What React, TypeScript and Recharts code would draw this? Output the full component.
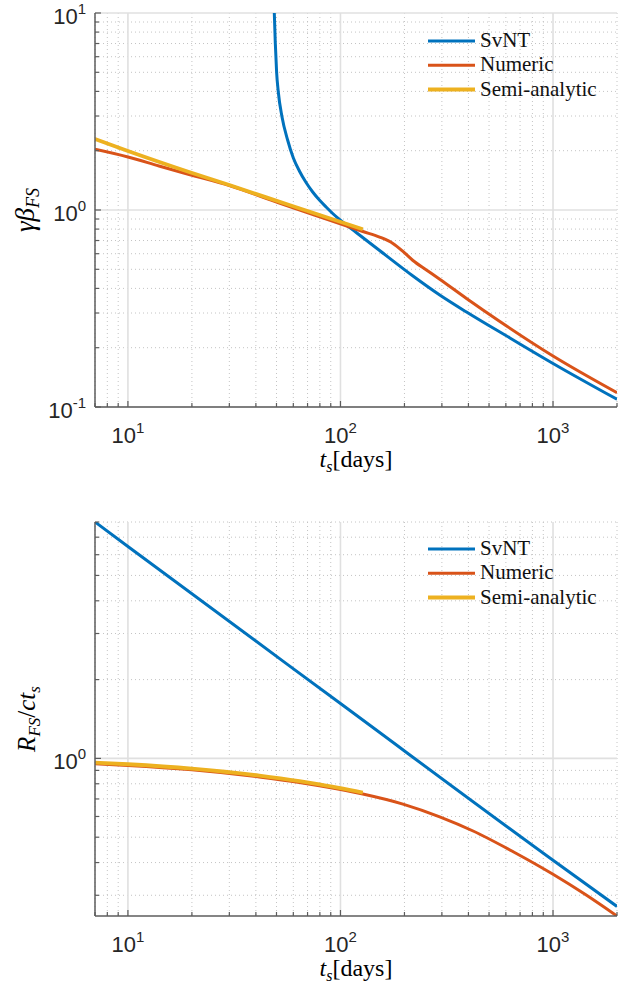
import React from 'react';
import { LineChart, Line, XAxis, YAxis, CartesianGrid, Legend } from 'recharts';

// ---------- data ----------
const seriesNames = ['SvNT', 'Numeric', 'Semi-analytic'];
const seriesColors = ['#0072BD', '#D95319', '#EDB120'];

const xMajor = [10, 100, 1000];
const xMinor = [7, 8, 9, 20, 30, 40, 50, 60, 70, 80, 90, 200, 300, 400, 500, 600, 700, 800, 900, 2000];
const topYMajor = [0.1, 1, 10];
const topYMinor = [0.2, 0.3, 0.4, 0.5, 0.6, 0.7, 0.8, 0.9, 2, 3, 4, 5, 6, 7, 8, 9];
const botYMajor = [1];
const botYMinor = [0.3, 0.4, 0.5, 0.6, 0.7, 0.8, 0.9, 2, 3, 4, 5, 6, 7, 8];

// top panel: gamma*beta_FS
const svntTopT = [48.83, 49.36, 50.06, 50.99, 53.09, 56.41, 60.02, 64.08, 68.89, 74.02, 79.59, 85.58, 91.95, 98.92, 118.6, 152.8, 219.3, 293.1, 391.7, 626.9, 1000, 2000];
const svntTopV = [10, 7.04, 5.018, 3.972, 2.966, 2.266, 1.836, 1.578, 1.379, 1.234, 1.124, 1.036, 0.96, 0.895, 0.769, 0.623, 0.4624, 0.3703, 0.3035, 0.224, 0.1663, 0.1094];
const numTopT = [7, 10, 14, 19.4, 30, 51.55, 99, 127.4, 152.8, 176.5, 196.8, 219.3, 253.7, 293.1, 391.7, 562.3, 1000, 2000];
const numTopV = [2.033, 1.858, 1.673, 1.514, 1.331, 1.085, 0.854, 0.778, 0.729, 0.676, 0.616, 0.554, 0.496, 0.445, 0.3554, 0.2716, 0.1815, 0.1182];
const semiTopT = [7, 10, 19.4, 30, 57.45, 127.4];
const semiTopV = [2.293, 1.993, 1.559, 1.339, 1.06, 0.798];

// bottom panel: R_FS / c t_s
const svntBotT = [7, 10, 100, 1000, 2000];
const svntBotV = [8.0, 6.45, 1.62, 0.408, 0.272];
const numBotT = [7, 10, 20, 41.5, 64.1, 79.6, 127.4, 196.8, 293.1, 420.7, 649.6, 1000, 1415, 2000];
const numBotV = [0.954, 0.94, 0.904, 0.849, 0.809, 0.786, 0.731, 0.669, 0.598, 0.528, 0.44, 0.3608, 0.3025, 0.25];
const semiBotT = [7, 10, 20, 41.5, 64.1, 79.6, 127.4];
const semiBotV = [0.964, 0.95, 0.914, 0.859, 0.818, 0.795, 0.74];

const zip = (t: number[], v: number[]) => t.map((x, i) => ({ t: x, v: v[i] }));

const AXIS = '#5c5c5c';
const TICKFONT = 'Liberation Sans, Arial, Helvetica, sans-serif';
const SERIF = 'Liberation Serif, Times New Roman, DejaVu Serif, serif';

const isMajor = (v: number) => Math.abs(Math.log10(v) - Math.round(Math.log10(v))) < 1e-6;

function XTick(props: any) {
  const { x, y, payload } = props;
  const v = payload.value;
  const major = isMajor(v);
  const len = major ? 6 : 4;
  return (
    <g>
      <line x1={x} x2={x} y1={y} y2={y - len} stroke={AXIS} strokeWidth={1.2} />
      {major && (
        <text x={x} y={y + 36} textAnchor="middle" style={{ fontFamily: TICKFONT, fontSize: 22 }} fill="#262626">
          <tspan>10</tspan>
          <tspan dy={-10} style={{ fontSize: 15 }}>{Math.round(Math.log10(v))}</tspan>
        </text>
      )}
    </g>
  );
}

function YTick(props: any) {
  const { x, y, payload } = props;
  const v = payload.value;
  const major = isMajor(v);
  const len = major ? 6 : 4;
  return (
    <g>
      <line x1={x} x2={x + len} y1={y} y2={y} stroke={AXIS} strokeWidth={1.2} />
      {major && (
        <text x={x - 9} y={y + 11} textAnchor="end" style={{ fontFamily: TICKFONT, fontSize: 22 }} fill="#262626">
          <tspan>10</tspan>
          <tspan dy={-10} style={{ fontSize: 15 }}>{Math.round(Math.log10(v))}</tspan>
        </text>
      )}
    </g>
  );
}

function XLabel(props: any) {
  const vb = props.viewBox || {};
  const cx = vb.x + vb.width / 2;
  const y = vb.y + 60;
  return (
    <text x={cx} y={y} textAnchor="middle" style={{ fontFamily: SERIF, fontSize: 24 }} fill="#000">
      <tspan style={{ fontStyle: 'italic' }}>t</tspan>
      <tspan style={{ fontStyle: 'italic', fontSize: 16 }} dy={5}>s</tspan>
      <tspan dy={-5}>[days]</tspan>
    </text>
  );
}

function YLabelTop(props: any) {
  const vb = props.viewBox || {};
  const cy = vb.y + vb.height / 2;
  return (
    <text transform={`translate(34,${cy}) rotate(-90)`} textAnchor="middle" style={{ fontFamily: SERIF, fontSize: 27 }} fill="#000">
      <tspan style={{ fontStyle: 'italic' }}>γβ</tspan>
      <tspan style={{ fontStyle: 'italic', fontSize: 18 }} dy={5}>FS</tspan>
    </text>
  );
}

function YLabelBot(props: any) {
  const vb = props.viewBox || {};
  const cy = vb.y + vb.height / 2;
  return (
    <text transform={`translate(35,${cy}) rotate(-90)`} textAnchor="middle" style={{ fontFamily: SERIF, fontSize: 25 }} fill="#000">
      <tspan style={{ fontStyle: 'italic' }}>R</tspan>
      <tspan style={{ fontStyle: 'italic', fontSize: 17 }} dy={5}>FS</tspan>
      <tspan dy={-5}>/</tspan>
      <tspan style={{ fontStyle: 'italic' }}>ct</tspan>
      <tspan style={{ fontStyle: 'italic', fontSize: 17 }} dy={5}>s</tspan>
    </text>
  );
}

function LegendBox() {
  return (
    <svg width={200} height={80} style={{ display: 'block', overflow: 'visible' }}>
      {seriesNames.map((n, i) => {
        const cy = 12 + i * 24.3;
        return (
          <g key={n}>
            <line x1={0} x2={47} y1={cy} y2={cy} stroke={seriesColors[i]} strokeWidth={i === 2 ? 4 : 3} />
            <text x={52} y={cy + 6} style={{ fontFamily: SERIF, fontSize: 21 }} fill="#111">{n}</text>
          </g>
        );
      })}
    </svg>
  );
}

function Panel(props: {
  height: number;
  marginTop: number;
  marginBottom: number;
  yDomain: [number, number];
  yMajor: number[];
  yMinor: number[];
  data: { t: number; v: number }[][];
  yLabel: (p: any) => any;
  legendTop: number;
}) {
  const { height, marginTop, marginBottom, yDomain, yMajor, yMinor, data, yLabel, legendTop } = props;
  const xTicks = [...xMajor, ...xMinor].sort((a, b) => a - b);
  const yTicks = [...yMajor, ...yMinor].sort((a, b) => a - b).filter((v) => v >= yDomain[0] && v <= yDomain[1]);
  return (
    <LineChart width={635} height={height} margin={{ top: marginTop, right: 18, bottom: marginBottom, left: 0 }}>
      <CartesianGrid
        verticalValues={xMinor}
        horizontalValues={yMinor.filter((v) => v >= yDomain[0] && v <= yDomain[1])}
        stroke="#c4c4c4"
        strokeWidth={1}
        strokeDasharray="1 3"
      />
      <CartesianGrid verticalValues={xMajor} horizontalValues={yMajor} stroke="#e0e0e0" strokeWidth={1.6} />
      <XAxis
        dataKey="t"
        type="number"
        scale="log"
        domain={[7, 2000]}
        allowDataOverflow
        ticks={xTicks}
        interval={0}
        tickSize={0}
        tickMargin={0}
        tickLine={false}
        tick={<XTick />}
        height={60}
        axisLine={{ stroke: AXIS, strokeWidth: 1.5 }}
        label={{ content: XLabel }}
      />
      <YAxis
        dataKey="v"
        type="number"
        scale="log"
        domain={yDomain}
        allowDataOverflow
        ticks={yTicks}
        interval={0}
        tickSize={0}
        tickMargin={0}
        tickLine={false}
        tick={<YTick />}
        width={95}
        axisLine={{ stroke: AXIS, strokeWidth: 1.5 }}
        label={{ content: yLabel }}
      />
      {data.map((d, i) => (
        <Line
          key={seriesNames[i]}
          name={seriesNames[i]}
          data={d}
          dataKey="v"
          type="monotone"
          stroke={seriesColors[i]}
          strokeWidth={i === 2 ? 3.8 : 3}
          dot={false}
          activeDot={false}
          isAnimationActive={false}
        />
      ))}
      <Legend
        content={() => <LegendBox />}
        layout="horizontal"
        verticalAlign="middle"
        align="center"
        wrapperStyle={{ position: 'absolute', left: 428, top: legendTop, width: 200, height: 80 }}
      />
    </LineChart>
  );
}

export default function App() {
  return (
    <div style={{ position: 'absolute', left: 0, top: 0, width: 635, height: 994, background: '#fff' }}>
      <div style={{ position: 'absolute', left: 0, top: 0 }}>
        <Panel
          height={490}
          marginTop={13}
          marginBottom={23}
          yDomain={[0.1, 10]}
          yMajor={topYMajor}
          yMinor={topYMinor}
          data={[zip(svntTopT, svntTopV), zip(numTopT, numTopV), zip(semiTopT, semiTopV)]}
          yLabel={YLabelTop}
          legendTop={29}
        />
      </div>
      <div style={{ position: 'absolute', left: 0, top: 490 }}>
        <Panel
          height={504}
          marginTop={32}
          marginBottom={18}
          yDomain={[0.25, 8]}
          yMajor={botYMajor}
          yMinor={botYMinor}
          data={[zip(svntBotT, svntBotV), zip(numBotT, numBotV), zip(semiBotT, semiBotV)]}
          yLabel={YLabelBot}
          legendTop={47}
        />
      </div>
    </div>
  );
}
